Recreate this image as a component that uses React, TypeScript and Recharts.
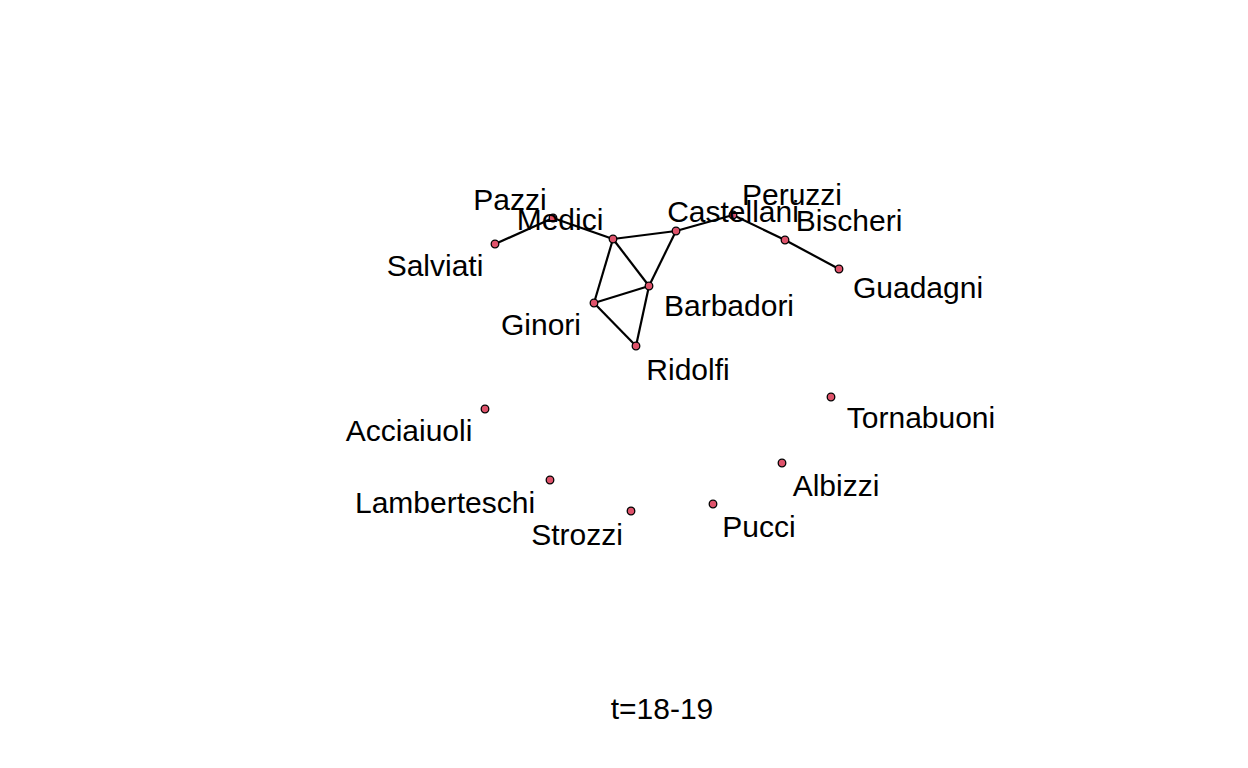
import React from "react";
import { ScatterChart, Scatter, XAxis, YAxis } from "recharts";

// node positions and label anchors, in page pixels
const names = ["Salviati", "Pazzi", "Medici", "Castellani", "Peruzzi", "Bischeri", "Guadagni", "Barbadori", "Ginori", "Ridolfi", "Acciaiuoli", "Tornabuoni", "Albizzi", "Lamberteschi", "Strozzi", "Pucci"];
const nodeX = [495, 553, 613, 676, 733, 785, 839, 649, 594, 636, 485, 831, 782, 550, 631, 713];
const nodeY = [244, 218, 239, 231, 215, 240, 269, 286, 303, 346, 409, 397, 463, 480, 511, 504];
const labelX = [435, 510, 560, 733, 792, 849, 918, 729, 541, 688, 409, 921, 836, 445, 577, 759];
const labelY = [265, 199, 219, 211, 194, 220, 287, 305, 324, 369, 430, 417, 485, 502, 534, 526];
const edges: [string, string][] = [
  ["Salviati", "Pazzi"],
  ["Pazzi", "Medici"],
  ["Medici", "Castellani"],
  ["Castellani", "Peruzzi"],
  ["Peruzzi", "Bischeri"],
  ["Bischeri", "Guadagni"],
  ["Medici", "Barbadori"],
  ["Medici", "Ginori"],
  ["Castellani", "Barbadori"],
  ["Ginori", "Barbadori"],
  ["Ginori", "Ridolfi"],
  ["Barbadori", "Ridolfi"],
];
const title = "t=18-19";

const nodes = names.map((n, i) => ({ name: n, x: nodeX[i], y: nodeY[i] }));
const labels = names.map((n, i) => ({ name: n, x: labelX[i], y: labelY[i] }));
const byName = (n: string) => nodes[names.indexOf(n)];

const font = "'Liberation Sans', Arial, sans-serif";

export default function App() {
  return (
    <div style={{ position: "absolute", left: 0, top: 0, background: "#fff" }}>
      <ScatterChart width={1248} height={768} margin={{ top: 0, right: 0, bottom: 0, left: 0 }}>
        <XAxis type="number" dataKey="x" domain={[0, 1248]} hide />
        <YAxis type="number" dataKey="y" domain={[0, 768]} reversed hide />
        {edges.map(([a, b]) => (
          <Scatter
            key={a + b}
            data={[byName(a), byName(b)]}
            line={{ stroke: "#000", strokeWidth: 2.2 }}
            shape={() => <g />}
            isAnimationActive={false}
          />
        ))}
        <Scatter
          data={nodes}
          isAnimationActive={false}
          shape={(p: any) => <circle cx={p.cx} cy={p.cy} r={3.8} fill="#DF536B" stroke="#000" strokeWidth={1.3} />}
        />
        <Scatter
          data={labels}
          isAnimationActive={false}
          shape={(p: any) => (
            <text x={p.cx} y={p.cy} textAnchor="middle" dominantBaseline="central" fontFamily={font} fontSize={30} fill="#000">
              {p.payload.name}
            </text>
          )}
        />
        <text x={662} y={708} textAnchor="middle" dominantBaseline="central" fontFamily={font} fontSize={30} fill="#000">
          {title}
        </text>
      </ScatterChart>
    </div>
  );
}
